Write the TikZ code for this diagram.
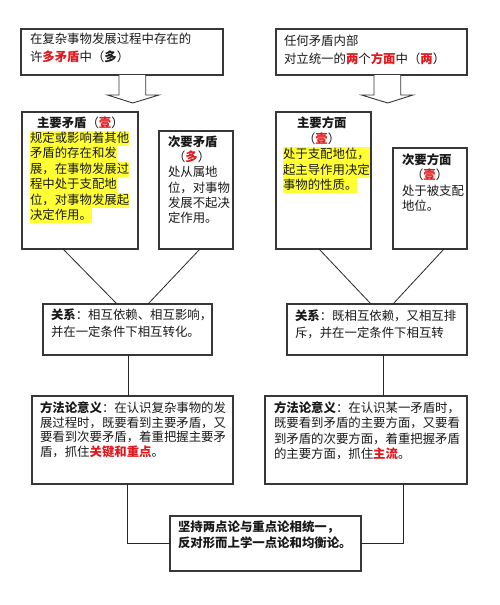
\documentclass[tikz,border=0pt]{standalone}
\usepackage{fontspec}
\newfontfamily\cjk{Noto Sans CJK SC}
\usetikzlibrary{calc}
\definecolor{hly}{RGB}{255,255,51}
\definecolor{rd}{RGB}{225,25,30}
\definecolor{bx}{RGB}{55,55,55}
\definecolor{tx}{RGB}{25,25,25}
\newcommand\hl[1]{{\setlength{\fboxsep}{0pt}\colorbox{hly}{\rule[-3.9pt]{0pt}{15.4pt}#1}}}
\newcommand\rb[1]{\textcolor{rd}{\bfseries #1}}
\tikzset{
  box/.style={draw=bx, line width=1.1pt, fill=white, inner sep=0pt, outer sep=0pt, anchor=north west},
  txt/.style={inner sep=0pt, outer sep=0pt, anchor=north west, align=left, text=tx},
  conn/.style={draw=black!85, line width=0.8pt},
  barrow/.style={draw=bx, line width=0.9pt, fill=white, line join=miter},
}
\newcommand\fs[1]{\cjk\fontsize{12.4}{#1}\selectfont}
\begin{document}
\begin{tikzpicture}[x=1pt,y=-1pt]
\useasboundingbox[fill=white] (0,0) rectangle (500,605);

% boxes
\node[box, minimum width=202pt, minimum height=46pt] (tl) at (21,29) {};
\node[box, minimum width=191pt, minimum height=46pt] (tr) at (276,29) {};
\node[box, minimum width=116pt, minimum height=137pt] (mc) at (22,112) {};
\node[box, minimum width=74pt, minimum height=118pt] (sc) at (159,131) {};
\node[box, minimum width=95pt, minimum height=137pt] (ma) at (276,112) {};
\node[box, minimum width=74pt, minimum height=101pt] (sa) at (393,148) {};
\node[box, minimum width=169pt, minimum height=51pt] (rl) at (43,304) {};
\node[box, minimum width=180pt, minimum height=51pt] (rr) at (287,304) {};
\node[box, minimum width=201pt, minimum height=88pt] (ml) at (32,396) {};
\node[box, minimum width=202pt, minimum height=88pt] (mr) at (265,396) {};
\node[box, minimum width=191pt, minimum height=55pt] (fin) at (170,516) {};

% block arrows
\draw[barrow] (119,75) -- (119,95) -- (107.5,95) -- (132.7,103) -- (159,95) -- (145.7,95) -- (145.7,75);
\draw[barrow] (374,75) -- (374,95) -- (361.5,95) -- (387.7,103) -- (413,95) -- (400.7,95) -- (400.7,75);

% texts
\node[txt, font=\fs{17.8}] (tlt) at (30,32.8) {在复杂事物发展过程中存在的\\许\rb{多矛盾}中（\textbf{多}）};
\node[txt, font=\fs{17.8}] (trt) at (284,34.8) {任何矛盾内部\\对立统一的\rb{两}个\rb{方面}中（\rb{两}）};

\node[txt, font=\fs{15.4}] (mct) at (30,116.5) {\hspace{7pt}\textbf{主要矛盾}（\rb{壹}）\\
\hl{规定或影响着其他}\\\hl{矛盾的存在和发}\\\hl{展，在事物发展过}\\\hl{程中处于支配地}\\\hl{位，对事物发展起}\\\hl{决定作用。}};
\node[txt, font=\fs{15.3}] (sct) at (168,135.5) {\textbf{次要矛盾}\\\hspace{5pt}（\rb{多}）\\处从属地\\位，对事物\\发展不起决\\定作用。};

\node[txt, font=\fs{15.4}] (mat) at (283,117.1) {\hspace{14pt}\textbf{主要方面}\\\hspace{20pt}（\rb{壹}）\\
\hl{处于支配地位，}\\\hl{起主导作用决定}\\\hl{事物的性质。}};
\node[txt, font=\fs{15.3}] (sat) at (402,153.8) {\textbf{次要方面}\\\hspace{9pt}（\rb{壹}）\\处于被支配\\地位。};

\node[txt, font=\fs{17}] (rlt) at (51,308.8) {\textbf{关系}：相互依赖、相互影响，\\并在一定条件下相互转化。};
\node[txt, font=\fs{16.7}] (rrt) at (295,309.8) {\textbf{关系}：既相互依赖，又相互排\\斥，并在一定条件下相互转};

\node[txt, font=\fs{14.5}] (mlt) at (40,402.1) {\textbf{方法论意义}：在认识复杂事物的发\\展过程时，既要看到主要矛盾，又\\要看到次要矛盾，着重把握主要矛\\盾，抓住\rb{关键和重点}。};
\node[txt, font=\fs{15.3}] (mrt) at (274,401.8) {\textbf{方法论意义}：在认识某一矛盾时，\\既要看到矛盾的主要方面，又要看\\到矛盾的次要方面，着重把握矛盾\\的主要方面，抓住\rb{主流}。};

\node[txt, font=\fs{16}] (fint) at (178,520.8) {\textbf{坚持两点论与重点论相统一，}\\\textbf{反对形而上学一点论和均衡论。}};

% connectors
\draw[conn] ([xshift=41pt]mc.south west) -- ([xshift=74pt]rl.north west);
\draw[conn] ([xshift=41pt]sc.south west) -- ([xshift=105pt]rl.north west);
\draw[conn] ([xshift=43pt]ma.south west) -- ([xshift=84pt]rr.north west);
\draw[conn] ([xshift=51pt]sa.south west) -- ([xshift=106pt]rr.north west);
\draw[conn] ([xshift=85pt]rl.south west) -- ([xshift=85pt]rl.south west |- ml.north);
\draw[conn] ([xshift=96pt]rr.south west) -- ([xshift=96pt]rr.south west |- mr.north);
\draw[conn] ([xshift=95pt]ml.south west) |- (fin.west);
\draw[conn] ([xshift=138pt]mr.south west) |- (fin.east);
\end{tikzpicture}
\end{document}
